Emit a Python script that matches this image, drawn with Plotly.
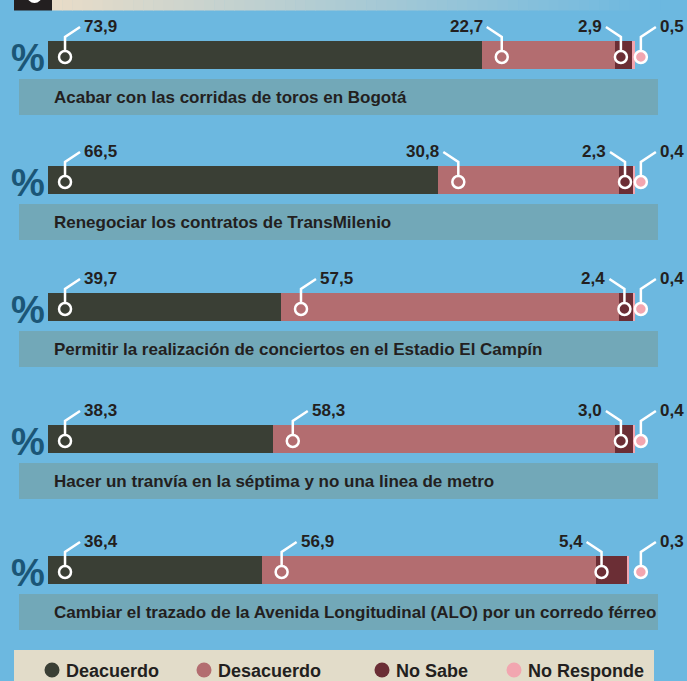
import plotly.graph_objects as go

# ---------------- data ----------------
questions = [
    "Acabar con las corridas de toros en Bogotá",
    "Renegociar los contratos de TransMilenio",
    "Permitir la realización de conciertos en el Estadio El Campín",
    "Hacer un tranvía en la séptima y no una linea de metro",
    "Cambiar el trazado de la Avenida Longitudinal (ALO) por un corredo férreo",
]
series_names = ["Deacuerdo", "Desacuerdo", "No Sabe", "No Responde"]
deacuerdo = [73.9, 66.5, 39.7, 38.3, 36.4]
desacuerdo = [22.7, 30.8, 57.5, 58.3, 56.9]
no_sabe = [2.9, 2.3, 2.4, 3.0, 5.4]
no_responde = [0.5, 0.4, 0.4, 0.4, 0.3]

# ---------------- style ----------------
W, H = 687, 681
BG = "#6cb8e0"
COLORS = ["#3a3f35", "#b36d70", "#6b2e35", "#f2a6b0"]
LABEL_BOX = "#72a8b8"
LEGEND_BOX = "#e2dcc9"
TXT = "#231f20"
PCT = "#1b5677"
X0, PXU = 48, 5.87          # pixel of 0 % and pixels per 1 %
ROW_TOPS = [41, 166, 293, 425, 556]   # layout: pixel top of each bar row
BAR_H = 28
LABEL_FONT = "Liberation Sans, Arial, sans-serif"
VAL_FONT = "Liberation Sans, Arial, sans-serif"


def px2x(p):
    return (p - X0) / PXU


fig = go.Figure()
series = [deacuerdo, desacuerdo, no_sabe, no_responde]
row_tops = ROW_TOPS[:len(questions)]
row_centers = [t + BAR_H / 2 for t in row_tops]

for name, vals, col in zip(series_names, series, COLORS):
    fig.add_trace(go.Bar(
        x=vals, y=row_centers, orientation="h", width=BAR_H,
        marker=dict(color=col, line=dict(width=0)), name=name,
        showlegend=False, hoverinfo="skip",
    ))

shapes = []
annotations = []

# top strip (cut-off header)
shapes.append(dict(type="rect", xref="paper", yref="y", x0=14 / W, x1=52 / W, y0=0, y1=10.5,
                   fillcolor="#231f20", line=dict(width=0), layer="below"))
shapes.append(dict(type="circle", xref="paper", yref="y", x0=27 / W, x1=42 / W, y0=-12, y1=3,
                   fillcolor="white", line=dict(width=0), layer="below"))
c0 = (0xe8, 0xdc, 0xc8)
c1 = (0x6c, 0xb8, 0xe0)
N = 60
gx0, gx1 = 52, 660
for k in range(N):
    t = k / (N - 1)
    col = "rgb(%d,%d,%d)" % tuple(round(a + (b - a) * t) for a, b in zip(c0, c1))
    shapes.append(dict(type="rect", xref="paper", yref="y",
                       x0=(gx0 + (gx1 - gx0) * k / N) / W,
                       x1=(gx0 + (gx1 - gx0) * (k + 1) / N + 0.6) / W,
                       y0=0, y1=10.5, fillcolor=col, line=dict(width=0), layer="below"))

for i, q in enumerate(questions):
    top = row_tops[i]
    # label box
    shapes.append(dict(type="rect", xref="paper", yref="y", x0=19 / W, x1=658 / W,
                       y0=top + 38, y1=top + 74, fillcolor=LABEL_BOX,
                       line=dict(width=0), layer="below"))
    annotations.append(dict(text="<b>%s</b>" % q, xref="paper", yref="y", x=52 / W, y=top + 56,
                            xanchor="left", yanchor="middle", showarrow=False,
                            font=dict(family=LABEL_FONT, size=17, color=TXT)))
    # percent sign
    annotations.append(dict(text="<b>%</b>", xref="paper", yref="y", x=28 / W, y=top + 17,
                            xanchor="center", yanchor="middle", showarrow=False,
                            font=dict(family=VAL_FONT, size=38, color=PCT)))

    # callouts
    starts = [0, deacuerdo[i], deacuerdo[i] + desacuerdo[i], 100]
    vals = [deacuerdo[i], desacuerdo[i], no_sabe[i], no_responde[i]]
    cx = [starts[0] + 2.9, starts[1] + 3.4, starts[2] + 1.0, 101.0]
    side = [1, (-1 if starts[1] > 50 else 1), -1, 1]
    cy = top + 16
    for j in range(4):
        xc = cx[j]
        xc_px = X0 + xc * PXU
        end_px = xc_px + side[j] * 15
        fig.add_trace(go.Scatter(
            x=[xc, xc, px2x(end_px)], y=[cy - 6, top - 4, top - 14],
            mode="lines", line=dict(color="white", width=2.5),
            showlegend=False, hoverinfo="skip"))
        fig.add_trace(go.Scatter(
            x=[xc], y=[cy], mode="markers",
            marker=dict(size=12, color=COLORS[j], line=dict(color="white", width=2.5)),
            showlegend=False, hoverinfo="skip"))
        annotations.append(dict(
            text="<b>%s</b>" % ("%.1f" % vals[j]).replace(".", ","),
            x=px2x(end_px + side[j] * 2), y=top - 15, xref="x", yref="y",
            xanchor="left" if side[j] > 0 else "right", yanchor="middle",
            showarrow=False, font=dict(family=VAL_FONT, size=17, color=TXT)))

# legend box
shapes.append(dict(type="rect", xref="paper", yref="y", x0=14 / W, x1=654 / W, y0=650, y1=690,
                   fillcolor=LEGEND_BOX, line=dict(width=0), layer="below"))
leg_x = [52, 204, 382, 514]
for name, col, lx in zip(series_names, COLORS, leg_x):
    shapes.append(dict(type="circle", xref="paper", yref="y", x0=(lx - 7.5) / W, x1=(lx + 7.5) / W,
                       y0=662.5, y1=677.5, fillcolor=col, line=dict(width=0)))
    annotations.append(dict(text="<b>%s</b>" % name, xref="paper", yref="y", x=(lx + 12) / W, y=671,
                            xanchor="left", yanchor="middle", showarrow=False,
                            font=dict(family=LABEL_FONT, size=18, color=TXT)))

fig.update_layout(
    width=W, height=H, margin=dict(l=0, r=0, t=0, b=0),
    paper_bgcolor=BG, plot_bgcolor=BG, barmode="stack", bargap=0,
    showlegend=False,
    xaxis=dict(range=[px2x(0), px2x(W)], visible=False, fixedrange=True),
    yaxis=dict(range=[H, 0], visible=False, fixedrange=True),
    shapes=shapes, annotations=annotations,
)

fig.write_html("out.html", config={"displayModeBar": False},
               post_script="document.body.style.margin='0px';document.body.style.overflow='hidden';")
